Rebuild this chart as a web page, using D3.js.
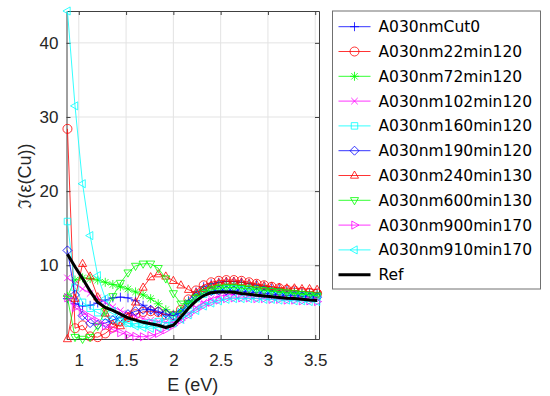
<!DOCTYPE html>
<html>
<head>
<meta charset="utf-8">
<script src="https://cdn.jsdelivr.net/npm/d3@7"></script>
<style>
  body { margin: 0; background: #fff; }
  svg { display: block; font-family: "Liberation Sans", Arial, sans-serif; }
</style>
</head>
<body>
<svg id="chart" width="550" height="396"></svg>
<script>
// photon energy grid (eV)
const energy = [0.88, 0.96, 1.04, 1.12, 1.20, 1.28, 1.36, 1.44, 1.52, 1.60, 1.68, 1.76,
  1.84, 1.92, 2.00, 2.08, 2.16, 2.24, 2.32, 2.40, 2.48, 2.56, 2.64, 2.72, 2.80, 2.88,
  2.96, 3.04, 3.12, 3.20, 3.28, 3.36, 3.44, 3.52];

const cut0 = [5.5, 4.8, 4.5, 4.6, 4.9, 5.3, 5.6, 5.7, 5.6, 5.2, 4.6, 4.0, 3.6, 3.3, 3.2,
  3.8, 5.2, 6.4, 7.1, 7.5, 7.7, 7.8, 7.8, 7.7, 7.5, 7.3, 7.1, 6.9, 6.8, 6.6, 6.5, 6.4, 6.3, 6.2];
const m22 = [28.4, 1.5, 1.9, 0.4, 0.3, 0.8, 1.6, 2.4, 3.0, 3.4, 3.7, 3.8, 3.7, 3.3, 3.2,
  4.0, 5.4, 6.6, 7.3, 7.7, 7.9, 8.0, 8.0, 7.9, 7.7, 7.5, 7.3, 7.1, 6.9, 6.7, 6.6, 6.4, 6.3, 6.2];
const m72 = [5.8, 8.0, 8.3, 8.2, 8.0, 7.7, 7.4, 7.1, 6.8, 6.4, 6.0, 5.5, 4.8, 4.0, 3.4,
  3.8, 5.0, 6.0, 6.6, 7.0, 7.2, 7.3, 7.3, 7.2, 7.1, 6.9, 6.8, 6.6, 6.5, 6.4, 6.3, 6.2, 6.1, 6.0];
const m102 = [8.3, 7.5, 6.8, 6.2, 5.6, 5.0, 4.4, 3.9, 3.5, 3.1, 2.8, 2.6, 2.4, 2.3, 2.3,
  2.6, 3.4, 4.3, 5.0, 5.5, 5.8, 6.0, 6.1, 6.1, 6.0, 6.0, 5.9, 5.8, 5.8, 5.7, 5.6, 5.6, 5.5, 5.5];
const m160 = [15.9, 7.0, 5.0, 4.2, 3.6, 3.1, 2.7, 2.4, 2.2, 2.1, 2.1, 2.2, 2.4, 2.7, 3.0,
  3.6, 4.6, 5.5, 6.1, 6.5, 6.7, 6.8, 6.8, 6.7, 6.6, 6.5, 6.4, 6.3, 6.2, 6.1, 6.0, 5.9, 5.9, 5.8];
const m190 = [12.0, 6.0, 3.2, 2.2, 2.0, 2.2, 2.6, 3.0, 3.4, 3.8, 4.0, 4.0, 3.8, 3.5, 3.2,
  3.6, 4.8, 5.8, 6.3, 6.5, 6.6, 6.6, 6.6, 6.5, 6.4, 6.3, 6.2, 6.1, 6.0, 5.9, 5.9, 5.8, 5.7, 5.7];
const m240 = [0.05, 5.5, 10.2, 8.5, 5.7, 3.5, 2.0, 1.8, 3.0, 5.0, 7.0, 8.4, 8.8, 8.5, 7.9,
  7.3, 6.7, 6.3, 6.8, 7.3, 7.6, 7.8, 7.8, 7.7, 7.5, 7.4, 7.2, 7.1, 7.0, 6.9, 6.9, 6.8, 6.8, 6.7];
const m600 = [5.6, 0.3, 0.05, 0.3, 1.8, 3.8, 5.8, 7.6, 9.0, 9.9, 10.2, 10.2, 9.6, 8.2, 6.2,
  4.8, 4.8, 5.6, 6.3, 6.7, 6.9, 7.0, 7.0, 6.9, 6.8, 6.7, 6.6, 6.5, 6.4, 6.3, 6.2, 6.1, 6.0, 5.9];
const m900 = [5.6, 4.3, 3.6, 3.0, 2.4, 1.8, 1.3, 0.9, 0.6, 0.4, 0.35, 0.5, 0.8, 1.3, 1.9,
  2.6, 3.3, 4.0, 4.6, 5.0, 5.3, 5.5, 5.6, 5.6, 5.6, 5.5, 5.5, 5.4, 5.4, 5.3, 5.3, 5.2, 5.2, 5.1];
const m910 = [44.3, 31.5, 21.0, 14.0, 8.6, 5.5, 3.8, 2.8, 2.2, 1.8, 1.6, 1.5, 1.6, 1.8, 2.2,
  2.7, 3.3, 3.9, 4.5, 4.9, 5.2, 5.4, 5.5, 5.5, 5.5, 5.5, 5.4, 5.4, 5.3, 5.3, 5.2, 5.2, 5.1, 5.1];
const ref = [11.5, 9.8, 8.2, 6.5, 5.0, 4.3, 3.9, 3.4, 2.9, 2.6, 2.3, 2.1, 1.9, 1.6, 1.9,
  3.0, 4.2, 5.2, 5.9, 6.3, 6.4, 6.4, 6.35, 6.2, 6.1, 5.95, 5.85, 5.75, 5.65, 5.55, 5.5, 5.4, 5.3, 5.25];

const names = ["A030nmCut0", "A030nm22min120", "A030nm72min120", "A030nm102min120",
  "A030nm160min120", "A030nm190min120", "A030nm240min130", "A030nm600min130",
  "A030nm900min170", "A030nm910min170", "Ref"];
const colors = ["#0000ff", "#ff0000", "#00ff00", "#ff00ff", "#00ffff", "#0000ff",
  "#ff0000", "#00ff00", "#ff00ff", "#00ffff", "#000000"];
const markers = ["plus", "circle", "star", "cross", "square", "diamond",
  "up", "down", "right", "left", null];
const values = [cut0, m22, m72, m102, m160, m190, m240, m600, m900, m910, ref];

const xTicks = [1, 1.5, 2, 2.5, 3, 3.5];
const yTicks = [10, 20, 30, 40];

const svg = d3.select("#chart");
const plot = { left: 66.5, right: 319, top: 11, bottom: 339 };

const x = d3.scaleLinear().domain([0.87, 3.54]).range([plot.left, plot.right]);
const y = d3.scaleLinear().domain([0.05, 44.3]).range([plot.bottom, plot.top]);

// marker shapes, roughly like matlab's
function markerPath(type, r) {
  const a = r * 0.72;
  switch (type) {
    case "plus": return `M${-r},0H${r}M0,${-r}V${r}`;
    case "circle": return `M${r},0A${r},${r} 0 1,1 ${-r},0A${r},${r} 0 1,1 ${r},0Z`;
    case "star": return `M${-r},0H${r}M0,${-r}V${r}M${-a},${-a}L${a},${a}M${-a},${a}L${a},${-a}`;
    case "cross": return `M${-a},${-a}L${a},${a}M${-a},${a}L${a},${-a}`;
    case "square": return `M${-a},${-a}H${a}V${a}H${-a}Z`;
    case "diamond": return `M0,${-r}L${r},0L0,${r}L${-r},0Z`;
    case "up": return `M0,${-r}L${r * 0.9},${r * 0.6}L${-r * 0.9},${r * 0.6}Z`;
    case "down": return `M0,${r}L${r * 0.9},${-r * 0.6}L${-r * 0.9},${-r * 0.6}Z`;
    case "right": return `M${r},0L${-r * 0.6},${r * 0.9}L${-r * 0.6},${-r * 0.9}Z`;
    case "left": return `M${-r},0L${r * 0.6},${r * 0.9}L${r * 0.6},${-r * 0.9}Z`;
  }
  return "";
}

// grid
svg.append("g")
  .selectAll("line.gx")
  .data(xTicks)
  .enter()
  .append("line")
  .attr("x1", d => x(d)).attr("x2", d => x(d))
  .attr("y1", plot.top).attr("y2", plot.bottom)
  .attr("stroke", "#e3e3e3").attr("stroke-width", 1);

svg.append("g")
  .selectAll("line.gy")
  .data(yTicks)
  .enter()
  .append("line")
  .attr("x1", plot.left).attr("x2", plot.right)
  .attr("y1", d => y(d)).attr("y2", d => y(d))
  .attr("stroke", "#e3e3e3").attr("stroke-width", 1);

// axes (ticks inside, box all around)
const axisColor = "#404040";
const xAxis = svg.append("g")
  .attr("transform", `translate(0,${plot.bottom})`)
  .call(d3.axisBottom(x).tickValues(xTicks).tickSizeInner(-4).tickSizeOuter(0).tickPadding(15)
    .tickFormat(d3.format("")));
const xAxisTop = svg.append("g")
  .attr("transform", `translate(0,${plot.top})`)
  .call(d3.axisTop(x).tickValues(xTicks).tickSizeInner(-4).tickSizeOuter(0).tickFormat(""));
const yAxis = svg.append("g")
  .attr("transform", `translate(${plot.left},0)`)
  .call(d3.axisLeft(y).tickValues(yTicks).tickSizeInner(-4).tickSizeOuter(0).tickPadding(8));
const yAxisRight = svg.append("g")
  .attr("transform", `translate(${plot.right},0)`)
  .call(d3.axisRight(y).tickValues(yTicks).tickSizeInner(-4).tickSizeOuter(0).tickFormat(""));

[xAxis, xAxisTop, yAxis, yAxisRight].forEach(g => {
  g.select(".domain").attr("stroke", axisColor);
  g.selectAll(".tick line").attr("stroke", axisColor);
  g.selectAll(".tick text")
    .attr("fill", "#262626")
    .style("font-size", "17px")
    .style("font-family", "'Liberation Sans', Arial, sans-serif");
});

// lines + markers
const line = d3.line()
  .x((d, i) => x(energy[i]))
  .y(d => y(d));

values.forEach((vals, k) => {
  const g = svg.append("g");
  g.append("path")
    .datum(vals)
    .attr("d", line)
    .attr("fill", "none")
    .attr("stroke", colors[k])
    .attr("stroke-width", markers[k] ? 0.8 : 3)
    .attr("stroke-linejoin", "round");
  if (markers[k]) {
    g.selectAll("path.mk")
      .data(vals)
      .enter()
      .append("path")
      .attr("class", "mk")
      .attr("transform", (d, i) => `translate(${x(energy[i])},${y(d)})`)
      .attr("d", markerPath(markers[k], 4.5))
      .attr("fill", "none")
      .attr("stroke", colors[k])
      .attr("stroke-width", 0.8);
  }
});

// axis titles
svg.append("text")
  .attr("x", (plot.left + plot.right) / 2)
  .attr("y", 391)
  .attr("text-anchor", "middle")
  .attr("fill", "#262626")
  .style("font-size", "18px")
  .text("E (eV)");

svg.append("text")
  .attr("transform", "translate(31,176) rotate(-90)")
  .attr("text-anchor", "middle")
  .attr("fill", "#262626")
  .style("font-size", "18px")
  .text("ℑ(ε(Cu))");

// legend
const legend = svg.append("g");
legend.append("rect")
  .attr("x", 332.5).attr("y", 11)
  .attr("width", 208).attr("height", 278)
  .attr("fill", "#fff")
  .attr("stroke", "#707070")
  .attr("stroke-width", 1);

names.forEach((name, k) => {
  const ly = 26.7 + k * 24.8;
  legend.append("line")
    .attr("x1", 338.5).attr("x2", 370.5)
    .attr("y1", ly).attr("y2", ly)
    .attr("stroke", colors[k])
    .attr("stroke-width", markers[k] ? 0.8 : 3);
  if (markers[k]) {
    legend.append("path")
      .attr("transform", `translate(354.5,${ly})`)
      .attr("d", markerPath(markers[k], 4.5))
      .attr("fill", "none")
      .attr("stroke", colors[k])
      .attr("stroke-width", 0.8);
  }
  legend.append("text")
    .attr("x", 378.5)
    .attr("y", ly + 5.5)
    .attr("fill", "#000")
    .style("font-size", "15.5px")
    .style("font-family", "'DejaVu Sans', sans-serif")
    .text(name);
});
</script>
</body>
</html>
